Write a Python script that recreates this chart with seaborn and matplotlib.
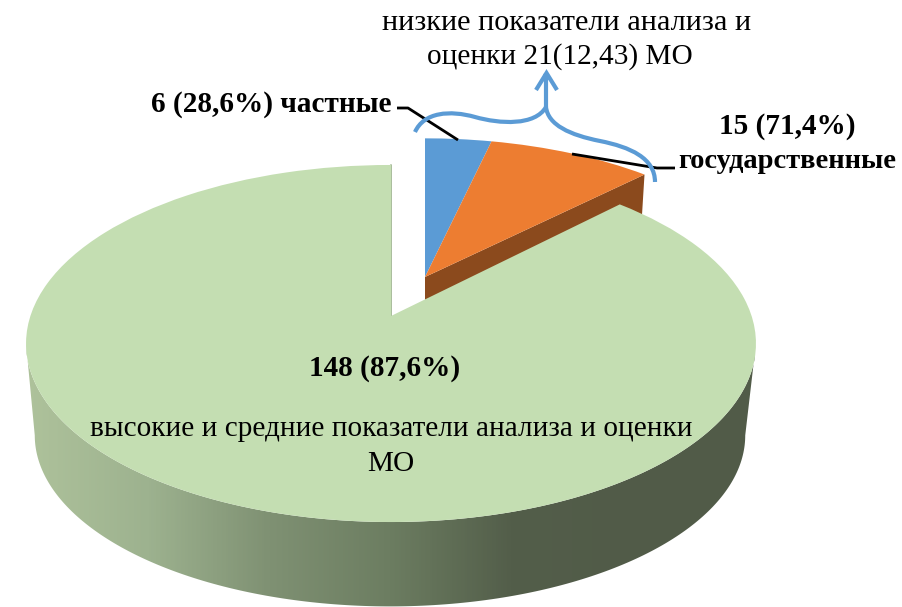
import numpy as np
import seaborn as sns
import matplotlib
matplotlib.use('Agg')
import matplotlib.pyplot as plt
from matplotlib.patches import PathPatch, Polygon
from matplotlib.path import Path
from matplotlib.transforms import Transform

# data
categories = ['частные', 'государственные', 'высокие и средние']
values = [6, 15, 148]
slice_colors = ['#5B9BD5', '#ED7D31', '#C4DEB2']
title_lines = ['низкие показатели анализа и', 'оценки 21(12,43) МО']
label_private = '6 (28,6%) частные'
label_state = ['15 (71,4%)', 'государственные']
label_high = '148 (87,6%)'
label_high_text = ['высокие и средние показатели анализа и оценки', 'МО']
wall_colors = ['#AEC29B', '#9DB28F', '#7F9173', '#6C7D61', '#535E4A', '#515B48', '#525C49']

K = 0.154  # perspective of the tilted disc


class Tilt(Transform):
    """maps the unit pie disc to figure pixels with a bit of perspective"""
    input_dims = 2
    output_dims = 2

    def __init__(self, cx, cy, a, b):
        super().__init__()
        self.cx, self.cy, self.a, self.b = cx, cy, a, b

    def transform_non_affine(self, values):
        values = np.asarray(values, dtype=float)
        w = 1 + K * values[:, 1]
        return np.column_stack([self.cx + self.a * values[:, 0] / w,
                                self.cy - self.b * values[:, 1] / w])


sns.set_theme(style='white')
plt.rcParams['font.family'] = ['Liberation Serif', 'DejaVu Serif']

fig = plt.figure(figsize=(9.02, 6.07), dpi=100)
ax = fig.add_axes([0, 0, 1, 1])

wedges, _ = ax.pie(values, colors=slice_colors, startangle=90, counterclock=False,
                   wedgeprops=dict(linewidth=0))
ax.set_aspect('auto')

top_big = Tilt(391, 316, 360.6, 174.3)
bottom_big = Tilt(390, 409, 351, 167)
top_small = Tilt(425, 277, 346, 160)
bottom_small = Tilt(425, 300, 342, 132)

for w in wedges[:2]:
    w.set_transform(top_small + ax.transData)
    w.set_zorder(3)
wedges[2].set_transform(top_big + ax.transData)
wedges[2].set_zorder(5)

# side wall of the big slice, a band between the top and bottom rim
t0 = np.arcsin(K)
t = np.linspace(np.pi + t0, 2 * np.pi - t0, 200)
rim = np.column_stack([np.cos(t), np.sin(t)])
band = np.vstack([bottom_big.transform(rim), top_big.transform(rim)[::-1]])
wall_cmap = sns.blend_palette(wall_colors, as_cmap=True)
img = ax.imshow(np.linspace(0, 1, 400).reshape(1, -1), cmap=wall_cmap, aspect='auto',
                extent=(25, 755, 607, 300), zorder=1)
img.set_clip_path(Polygon(band, closed=True, transform=ax.transData))

# cut face under the orange slice
a = np.deg2rad(wedges[1].theta1)
corner = np.array([[0, 0], [np.cos(a), np.sin(a)]])
face = np.vstack([top_small.transform(corner), bottom_small.transform(corner)[::-1]])
ax.add_patch(Polygon(face, closed=True, facecolor='#8B4A1D', edgecolor='none', zorder=2))

# thin shadow on the left cut edge of the big slice
edge = top_big.transform(np.array([[0, 0], [0, 1]]))
ax.plot(edge[:, 0], edge[:, 1], color='#A3B794', lw=1.3, zorder=4)

ax.set_xlim(0, 902)
ax.set_ylim(607, 0)
ax.axis('off')

# leader lines
ax.plot([397, 408, 458], [108, 108, 140], color='black', lw=2, zorder=6, solid_capstyle='butt')
ax.plot([572, 657, 675], [154, 168, 168], color='black', lw=2, zorder=6, solid_capstyle='butt')

# brace with arrow
C = Path.CURVE4
brace = Path([(415, 132), (424, 112), (450, 110), (475, 117),
              (500, 124), (535, 126), (546, 107),
              (548, 125), (570, 135), (600, 141),
              (630, 147), (655, 158), (655, 182),
              (546, 107), (546, 73),
              (536, 90), (546.5, 73), (557, 90)],
             [Path.MOVETO, C, C, C, C, C, C, C, C, C, C, C, C,
              Path.MOVETO, Path.LINETO, Path.MOVETO, Path.LINETO, Path.LINETO])
ax.add_patch(PathPatch(brace, facecolor='none', edgecolor='#5B9BD5', lw=3, zorder=7))

# text
fs = 21.1
ax.text(567, 23, title_lines[0], ha='center', va='center', fontsize=21.8, color='black', zorder=8)
ax.text(560, 57, title_lines[1], ha='center', va='center', fontsize=fs, color='black', zorder=8)
ax.text(271, 104, label_private, ha='center', va='center', fontsize=fs, fontweight='bold', color='black', zorder=8)
ax.text(787, 127, label_state[0], ha='center', va='center', fontsize=fs, fontweight='bold', color='black', zorder=8)
ax.text(787, 162, label_state[1], ha='center', va='center', fontsize=20.5, fontweight='bold', color='black', zorder=8)
ax.text(385, 369, label_high, ha='center', va='center', fontsize=fs, fontweight='bold', color='black', zorder=8)
ax.text(391, 429, label_high_text[0], ha='center', va='center', fontsize=fs, color='black', zorder=8)
ax.text(391, 464, label_high_text[1], ha='center', va='center', fontsize=fs, color='black', zorder=8)

fig.savefig('out.png', dpi=100)
